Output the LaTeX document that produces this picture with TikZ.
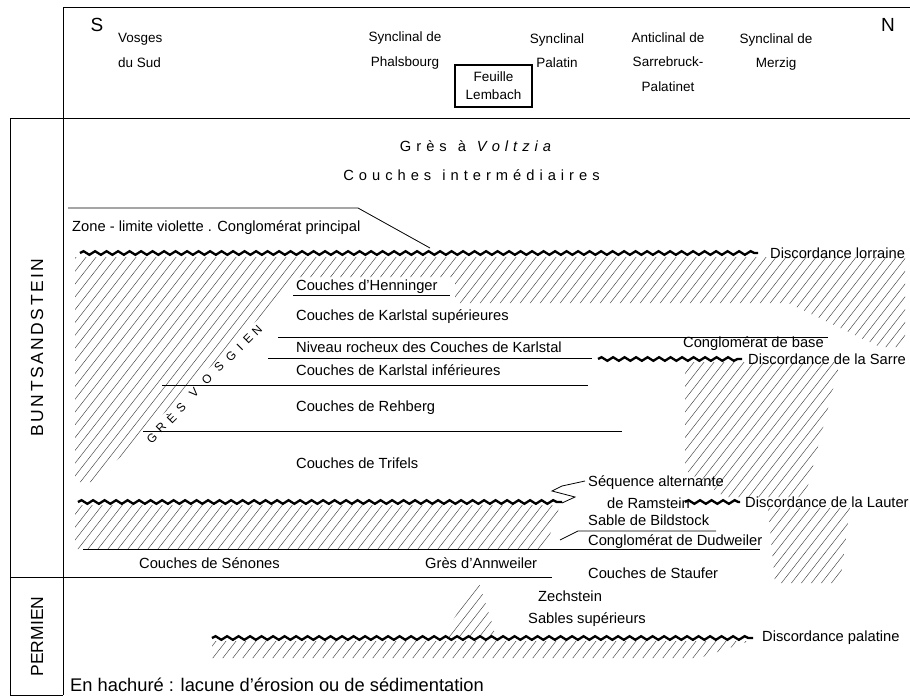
\documentclass[tikz,border=0pt]{standalone}
\usepackage{fontspec}
\setmainfont{Liberation Sans}
\usetikzlibrary{decorations.pathmorphing}
\makeatletter
\newcommand\lspc[2]{\@tfor\lspc@c:=#2\do{\lspc@c\kern#1}}
\makeatother
\begin{document}
\begin{tikzpicture}[x=1pt,y=-1pt,
  font=\fontsize{14.7}{17.6}\selectfont,
  frame/.style={line width=1pt},
  layer/.style={line width=0.8pt},
  hatchln/.style={line width=0.45pt,black!75},
  wave/.style={line width=2.3pt,decorate,decoration={snake,segment length=11.5pt,amplitude=1.8pt}},
  lbl/.style={anchor=west,inner sep=0pt},
  head/.style={align=center,inner sep=0pt,font=\fontsize{13.5}{24.5}\selectfont},
  side/.style={rotate=90,inner sep=0pt,font=\fontsize{17.5}{20}\selectfont},
  gvletter/.style={rotate=45,inner sep=0pt,font=\fontsize{12}{14}\selectfont}]
\useasboundingbox (0,0) rectangle (910,699);
% hatching
\begin{scope}
\clip (75,257) -- (905,257) -- (905,347) -- (880,347) -- (788,303) -- (455,303) -- (455,277) -- (300,277) -- (95,482) -- (75,482) -- cycle
      (685,362) -- (840,362) -- (805,497) -- (725,497) -- (685,470) -- cycle
      (768,508) -- (850,508) -- (840,583) -- (775,583) -- cycle
      (75,505) -- (560,505) -- (545,549) -- (75,549) -- cycle
      (212,641) -- (750,641) -- (700,658) -- (212,658) -- cycle
      (478,580) -- (497,638) -- (442,638) -- cycle;
\foreach \i in {-700,-690,...,920} \draw[hatchln] (\i,700) -- ++(547,-700);
\end{scope}
% frame
\draw[frame] (63,7) -- (910,7);
\draw[frame] (63,7) -- (63,695);
\draw[frame] (10,118) -- (910,118);
\draw[frame] (10,118) -- (10,695) -- (63,695);
\draw[frame] (10,577) -- (552,577);
% layer boundaries
\draw[layer] (68,208) -- (358,208) -- (430,248);
\draw[layer] (293,295) -- (450,295);
\draw[layer] (278,337) -- (828,337);
\draw[layer] (268,358) -- (592,358);
\draw[layer] (162,385) -- (588,385);
\draw[layer] (143,431) -- (622,431);
\draw[layer] (83,549) -- (760,549);
\draw[layer] (560,540) -- (578,531) -- (716,531);
\draw[layer] (562,503) -- (575,497) -- (552,491) -- (562,486) -- (585,481);
% unconformities
\draw[wave] (80,253) -- (758,253);
\draw[wave] (598,359) -- (742,359);
\draw[wave] (78,502) -- (562,502);
\draw[wave] (685,502) -- (740,502);
\draw[wave] (212,638) -- (753,638);
% header
\node[inner sep=0pt,font=\fontsize{19}{22}\selectfont] (S) at (97,25) {S};
\node[inner sep=0pt,font=\fontsize{19}{22}\selectfont] (N) at (888,25) {N};
\node[head,align=left,anchor=west] (vosges) at (118,50.5) {Vosges\\du Sud};
\node[head] (phals) at (405,50.5) {Synclinal de\\Phalsbourg};
\node[draw,line width=1.5pt,minimum width=77pt,minimum height=42pt,align=center,inner sep=0pt,font=\fontsize{13.5}{18}\selectfont] (lembach) at (493.5,86) {Feuille\\Lembach};
\node[head] (palatin) at (557,50.5) {Synclinal\\Palatin};
\node[head] (sarreb) at (668,62) {Anticlinal de\\Sarrebruck-\\Palatinet};
\node[head] (merzig) at (776,52) {Synclinal de\\Merzig};
% side labels
\node[side] (bunt) at (37,347.5) {\lspc{2.5pt}{BUNTSANDSTEI}N};
\node[side] (perm) at (37,636.5) {PERMIEN};
% spaced titles
\node[inner sep=0pt] (voltzia) at (478,146) {\lspc{5pt}{Grès}\hspace{6pt}\lspc{5pt}{à}\hspace{6pt}\textit{\lspc{5pt}{Voltzia}}};
\node[inner sep=0pt] (interm) at (474,175) {\lspc{5pt}{Couches}\hspace{6pt}\lspc{5pt}{intermédiaires}};
\foreach \c/\x/\y [count=\k] in {G/152/438, R/161/428, È/171/418, S/181/408, V/194/393, O/207/379, S/219/367, G/231/356, I/240/347, E/248/339, N/257/331}
  \node[gvletter] (gv\k) at (\x,\y) {\c};
% layer names
\node[lbl] (zone) at (72,228) {Zone - limite violette . Conglomérat principal};
\node[lbl] (henn) at (296,287) {Couches d’Henninger};
\node[lbl] (ksup) at (296,317) {Couches de Karlstal supérieures};
\node[lbl] (nivr) at (296,347) {Niveau rocheux des Couches de Karlstal};
\node[lbl] (kinf) at (296,370) {Couches de Karlstal inférieures};
\node[lbl] (rehb) at (296,408) {Couches de Rehberg};
\node[lbl] (trif) at (296,463) {Couches de Trifels};
\node[lbl] (cbase) at (683,344) {Conglomérat de base};
\node[lbl] (seq) at (588,483) {Séquence alternante};
\node[lbl] (ramst) at (607,503) {de Ramstein};
\node[lbl] (bild) at (588,520) {Sable de Bildstock};
\node[lbl] (dudw) at (588,542) {Conglomérat de Dudweiler};
\node[lbl] (senon) at (139,563) {Couches de Sénones};
\node[lbl] (annw) at (425,563) {Grès d’Annweiler};
\node[lbl] (stauf) at (588,573) {Couches de Staufer};
\node[lbl] (zech) at (538,596) {Zechstein};
\node[lbl] (sabsup) at (528,620) {Sables supérieurs};
% unconformity names
\node[lbl] (dlorr) at (770,253) {Discordance lorraine};
\node[lbl] (dsarre) at (748,359) {Discordance de la Sarre};
\node[lbl] (dlaut) at (745,502) {Discordance de la Lauter};
\node[lbl] (dpal) at (762,638) {Discordance palatine};
% legend
\node[lbl,font=\fontsize{18.3}{22}\selectfont] (legend) at (70,685) {En hachuré : lacune d’érosion ou de sédimentation};
\end{tikzpicture}
\end{document}
